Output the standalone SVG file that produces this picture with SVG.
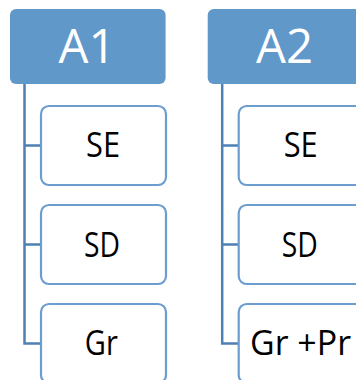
<svg xmlns="http://www.w3.org/2000/svg" width="356" height="380" viewBox="0 0 356 380">
  <style>
    .head { fill: #6198CA; }
    .head-text { fill: #ffffff; font-family: "Open Sans", "Liberation Sans", Arial, sans-serif; font-size: 48px; text-anchor: middle; }
    .item { fill: #ffffff; stroke: #6B9DCF; stroke-width: 2.2; }
    .item-text { fill: #000000; font-family: "Open Sans", "Liberation Sans", Arial, sans-serif; font-size: 35px; text-anchor: middle; }
    .link { fill: none; stroke: #4F80B4; stroke-width: 2.5; }
  </style>
  <rect width="356" height="380" fill="#ffffff"/>

  <!-- tree connectors -->
  <g id="connectors">
    <path class="link" d="M24.5 84 V343.5 H41 M24.5 145.5 H41 M24.5 244.5 H41"/>
    <path class="link" d="M222.2 84 V343.5 H238.7 M222.2 145.5 H238.7 M222.2 244.5 H238.7"/>
  </g>

  <!-- column A1 -->
  <g id="A1">
    <rect class="head" x="10" y="9" width="155.6" height="75" rx="6"/>
    <text class="head-text" x="87" y="63" textLength="57" lengthAdjust="spacingAndGlyphs">A1</text>
  </g>
  <g id="A1-SE">
    <rect class="item" x="41" y="106" width="125" height="79" rx="8"/>
    <text class="item-text" x="103" y="157" textLength="34" lengthAdjust="spacingAndGlyphs">SE</text>
  </g>
  <g id="A1-SD">
    <rect class="item" x="41" y="205" width="125" height="79" rx="8"/>
    <text class="item-text" x="102" y="256.5" textLength="36" lengthAdjust="spacingAndGlyphs">SD</text>
  </g>
  <g id="A1-Gr">
    <rect class="item" x="41" y="304" width="125" height="79" rx="8"/>
    <text class="item-text" x="101.3" y="355" textLength="33" lengthAdjust="spacingAndGlyphs">Gr</text>
  </g>

  <!-- column A2 -->
  <g id="A2">
    <rect class="head" x="207.7" y="9" width="155.6" height="75" rx="6"/>
    <text class="head-text" x="284.5" y="63" textLength="57" lengthAdjust="spacingAndGlyphs">A2</text>
  </g>
  <g id="A2-SE">
    <rect class="item" x="238.7" y="106" width="125" height="79" rx="8"/>
    <text class="item-text" x="300.7" y="157" textLength="34" lengthAdjust="spacingAndGlyphs">SE</text>
  </g>
  <g id="A2-SD">
    <rect class="item" x="238.7" y="205" width="125" height="79" rx="8"/>
    <text class="item-text" x="299.7" y="256.5" textLength="36" lengthAdjust="spacingAndGlyphs">SD</text>
  </g>
  <g id="A2-GrPr">
    <rect class="item" x="238.7" y="304" width="125" height="79" rx="8"/>
    <text class="item-text" x="300.5" y="355" textLength="101" lengthAdjust="spacingAndGlyphs">Gr +Pr</text>
  </g>
</svg>
